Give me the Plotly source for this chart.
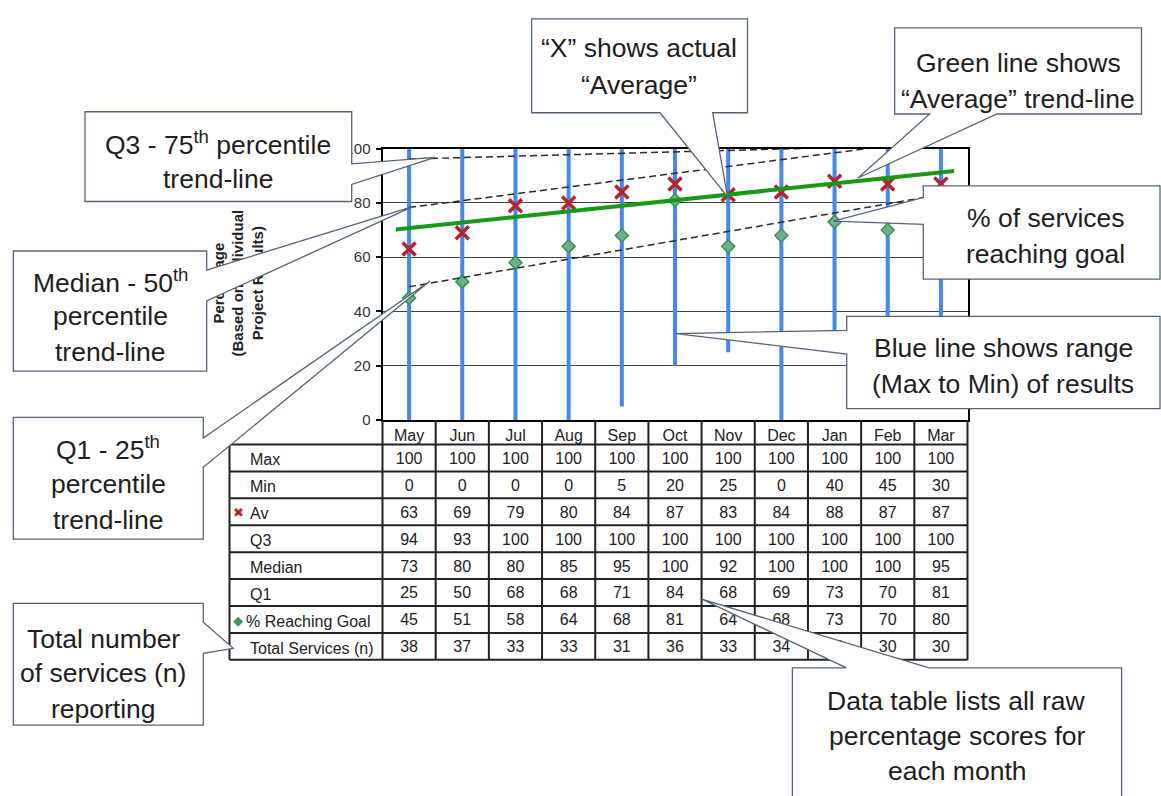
import numpy as np
import plotly.graph_objects as go

# ---------------- data ----------------
months = ["May", "Jun", "Jul", "Aug", "Sep", "Oct", "Nov", "Dec", "Jan", "Feb", "Mar"]
max_vals = [100, 100, 100, 100, 100, 100, 100, 100, 100, 100, 100]
min_vals = [0, 0, 0, 0, 5, 20, 25, 0, 40, 45, 30]
# bottoms of the blue range lines as drawn in the chart (Jan/Feb run down behind the callouts)
range_bottom_drawn = [0, 0, 0, 0, 5, 20, 25, 0, 30, 30, 30]
avg_vals = [63, 69, 79, 80, 84, 87, 83, 84, 88, 87, 87]
q3_vals = [94, 93, 100, 100, 100, 100, 100, 100, 100, 100, 100]
median_vals = [73, 80, 80, 85, 95, 100, 92, 100, 100, 100, 95]
q1_vals = [25, 50, 68, 68, 71, 84, 68, 69, 73, 70, 81]
goal_vals = [45, 51, 58, 64, 68, 81, 64, 68, 73, 70, 80]
total_vals = [38, 37, 33, 33, 31, 36, 33, 34, 32, 30, 30]
row_labels = ["Max", "Min", "Av", "Q3", "Median", "Q1", "% Reaching Goal", "Total Services (n)"]
y_ticks = [0, 20, 40, 60, 80, 100]
y_title = "Percentage<br>(Based on Individual<br>Project Results)"

callouts = [
    {"pts": [(85, 105), (351.7, 105), (351.7, 158.3), (435, 151.7), (351.7, 179.3), (351.7, 196.7), (85, 196.7)],
     "lines": [("Q3 - 75<sup>th</sup> percentile", 218, 136.7), ("trend-line", 218, 173.3)]},
    {"pts": [(13.3, 247.3), (206.7, 247.3), (206.7, 266.7), (413.3, 201.7), (206.7, 298.3), (206.7, 370), (13.3, 370)],
     "lines": [("Median - 50<sup>th</sup>", 110, 278.3), ("percentile", 110, 313.3), ("trend-line", 110, 350)]},
    {"pts": [(13.3, 417.3), (203.3, 417.3), (203.3, 438.3), (430, 278), (203.3, 468.3), (203.3, 541.7), (13.3, 541.7)],
     "lines": [("Q1 - 25<sup>th</sup>", 108, 448.3), ("percentile", 108, 485), ("trend-line", 108, 521.7)]},
    {"pts": [(13.3, 607.3), (203.3, 607.3), (203.3, 626.7), (233.3, 653.3), (203.3, 658.3), (203.3, 731.7), (13.3, 731.7)],
     "lines": [("Total number", 103.3, 643.3), ("of services (n)", 103.3, 678.3), ("reporting", 103.3, 715)]},
    {"pts": [(531.6, 10), (747.5, 10), (747.5, 106), (712.7, 106), (727.5, 191.7), (660, 106), (531.6, 106)],
     "lines": [("\u201cX\u201d shows actual", 639, 40), ("\u201cAverage\u201d", 639, 78)]},
    {"pts": [(894.7, 19.3), (1141.5, 19.3), (1141.5, 107.3), (997, 107.3), (858, 172.7), (929.7, 107.3), (894.7, 107.3)],
     "lines": [("Green line shows", 1018, 55), ("\u201cAverage\u201d trend-line", 1018, 91.7)]},
    {"pts": [(923.3, 180.7), (1160, 180.7), (1160, 276), (923.3, 276), (923.3, 220), (833.3, 216.7), (923.3, 192.7)],
     "lines": [("% of services", 1045.7, 213.3), ("reaching goal", 1045.7, 250)]},
    {"pts": [(846.7, 314), (1160, 314), (1160, 408.3), (846.7, 408.3), (846.7, 352.7), (676, 331.7), (846.7, 328.3)],
     "lines": [("Blue line shows range", 1003.3, 346.7), ("(Max to Min) of results", 1003.3, 383.3)]},
    {"pts": [(792.4, 673.3), (846.4, 673.3), (702.5, 603.3), (929, 673.3), (1121.6, 673.3), (1121.6, 830), (792.4, 830)],
     "lines": [("Data table lists all raw", 956.8, 706.7), ("percentage scores for", 956.8, 743.3), ("each month", 956.8, 778.3)]},
]

# ---------------- geometry helpers ----------------
W, H = 1161, 796
PL, PR, PT, PB = 382.5, 967.5, 142.7, 420.0
TAB_L, TAB_T, ROW_H = 229.5, 445.0, 27.5
FONT = "Liberation Sans, Arial, sans-serif"


def px(x):
    return x / W


def py(y):
    return 1 - y / H


cat_w = (PR - PL) / len(months)
xi = list(range(len(months)))

fig = go.Figure()

# Blue range lines (min to max)
rx, ry = [], []
for i in xi:
    rx += [i, i, None]
    ry += [range_bottom_drawn[i], max_vals[i], None]
fig.add_trace(go.Scatter(x=rx, y=ry, mode="lines", line=dict(color="#4687f0", width=4),
                         hoverinfo="skip", showlegend=False))

# Markers
fig.add_trace(go.Scatter(x=xi, y=avg_vals, mode="markers",
                         marker=dict(symbol="x-thin", size=13, line=dict(color="#b5232b", width=3.5)),
                         showlegend=False))
fig.add_trace(go.Scatter(x=xi, y=goal_vals, mode="markers",
                         marker=dict(symbol="diamond", size=10, color="#6fae94",
                                     line=dict(color="#2f9a48", width=1.5)),
                         showlegend=False))

# Dashed quartile trendlines (linear fits)
for series in (q3_vals, median_vals, q1_vals):
    m, b = np.polyfit(xi, series, 1)
    tx = [0, len(months) - 1]
    fig.add_trace(go.Scatter(x=tx, y=[m * t + b for t in tx], mode="lines",
                             line=dict(color="#2b2b2b", width=1.5, dash="7px,4px"),
                             hoverinfo="skip", showlegend=False))

# Green average trendline
m, b = np.polyfit(xi, avg_vals, 1)
gx = [-0.25, len(months) - 1 + 0.25]
fig.add_trace(go.Scatter(x=gx, y=[m * t + b for t in gx], mode="lines",
                         line=dict(color="#179a17", width=4), hoverinfo="skip", showlegend=False))

# Rotated y-axis title, drawn as bar text in its own small subplot so the callouts can overlap it
fig.add_trace(go.Bar(x=[0.5], y=[1], base=[0], width=[1.0], text=[f"<b>{y_title}</b>"],
                     xaxis="x3", yaxis="y3",
                     textposition="inside", textangle=-90, insidetextanchor="middle",
                     constraintext="none", cliponaxis=False,
                     marker=dict(color="rgba(0,0,0,0)", line=dict(width=0)),
                     textfont=dict(family=FONT, size=15, color="#222"),
                     insidetextfont=dict(family=FONT, size=15, color="#222"),
                     hoverinfo="skip", showlegend=False))

# Data table numbers
table_rows = [max_vals, min_vals, avg_vals, q3_vals, median_vals, q1_vals, goal_vals, total_vals]
tx, ty, tt = [], [], []
for r, row in enumerate(table_rows):
    for i in xi:
        tx.append(i)
        ty.append(r + 0.5)
        tt.append(str(row[i]))
fig.add_trace(go.Scatter(x=tx, y=ty, mode="text", text=tt, xaxis="x", yaxis="y2", cliponaxis=False,
                         textfont=dict(family=FONT, size=16, color="#222"),
                         hoverinfo="skip", showlegend=False))

shapes = []
line_style = dict(color="#222", width=2)
n_rows = len(row_labels)
tab_b = TAB_T + ROW_H * n_rows
for j in range(n_rows + 1):
    yy = TAB_T + ROW_H * j
    shapes.append(dict(type="line", xref="paper", yref="paper", x0=px(TAB_L), x1=px(PR),
                       y0=py(yy), y1=py(yy), line=line_style, layer="above"))
for k in range(len(months) + 1):
    xx = PL + cat_w * k
    shapes.append(dict(type="line", xref="paper", yref="paper", x0=px(xx), x1=px(xx),
                       y0=py(PB), y1=py(tab_b), line=line_style, layer="above"))
shapes.append(dict(type="line", xref="paper", yref="paper", x0=px(TAB_L), x1=px(TAB_L),
                   y0=py(TAB_T), y1=py(tab_b), line=line_style, layer="above"))

annotations = []
for r, lab in enumerate(row_labels):
    x0 = 244 if lab.startswith("%") else 247.5
    annotations.append(dict(text=lab, x=px(x0), y=py(TAB_T + ROW_H * (r + 0.5) + 2), xref="paper", yref="paper",
                            xanchor="left", yanchor="middle", showarrow=False,
                            font=dict(family=FONT, size=16, color="#222")))
annotations.append(dict(text="\u2716", x=px(238.5), y=py(TAB_T + ROW_H * 2.5 + 1), xref="paper", yref="paper",
                        xanchor="center", yanchor="middle", showarrow=False,
                        font=dict(family="DejaVu Sans", size=13, color="#c0202a")))
annotations.append(dict(text="\u25c6", x=px(237.5), y=py(TAB_T + ROW_H * 6.5 + 1), xref="paper", yref="paper",
                        xanchor="center", yanchor="middle", showarrow=False,
                        font=dict(family="DejaVu Sans", size=13, color="#3a9a5a")))

for c in callouts:
    pts = c["pts"]
    path = "M " + " L ".join(f"{px(x):.5f},{py(y):.5f}" for x, y in pts) + " Z"
    shapes.append(dict(type="path", path=path, xref="paper", yref="paper", fillcolor="white",
                       line=dict(color="#55647a", width=1.3), layer="above"))
    for txt, cx, cy in c["lines"]:
        annotations.append(dict(text=txt, x=px(cx), y=py(cy), xref="paper", yref="paper",
                                xanchor="center", yanchor="middle", showarrow=False,
                                font=dict(family=FONT, size=26.5, color="#1e1e1e")))

fig.update_layout(
    width=W, height=H, autosize=False,
    margin=dict(l=0, r=0, t=0, b=0, pad=0),
    paper_bgcolor="white", plot_bgcolor="rgba(0,0,0,0)",
    font=dict(family=FONT, color="#222"),
    showlegend=False,
    xaxis=dict(domain=[px(PL), px(PR)], range=[-0.5, len(months) - 0.5],
               tickvals=xi, ticktext=months, ticks="", showgrid=False, zeroline=False,
               showline=True, linecolor="black", linewidth=2, mirror=True,
               tickfont=dict(family=FONT, size=16, color="#222"), anchor="y"),
    yaxis=dict(domain=[py(PB), py(PT)], range=[0, 100], tickvals=y_ticks,
               ticks="outside", ticklen=5, tickwidth=2, tickcolor="black", ticklabelstandoff=2,
               showline=True, linecolor="black", linewidth=2, mirror=True,
               showgrid=True, gridcolor="#444", gridwidth=1, zeroline=False,
               tickfont=dict(family=FONT, size=15, color="#333"), anchor="x"),
    yaxis2=dict(domain=[py(tab_b + 2), py(TAB_T + 2)], range=[n_rows, 0], visible=False, anchor="x"),
    xaxis3=dict(domain=[px(205), px(270)], range=[0, 1], visible=False, anchor="y3"),
    yaxis3=dict(domain=[py(380), py(180)], range=[0, 1], visible=False, anchor="x3"),
    shapes=shapes,
    annotations=annotations,
    bargap=0,
)

fig.write_html("out.html", config={"displayModeBar": False},
               post_script="document.body.style.margin='0';document.body.style.overflow='hidden';")
